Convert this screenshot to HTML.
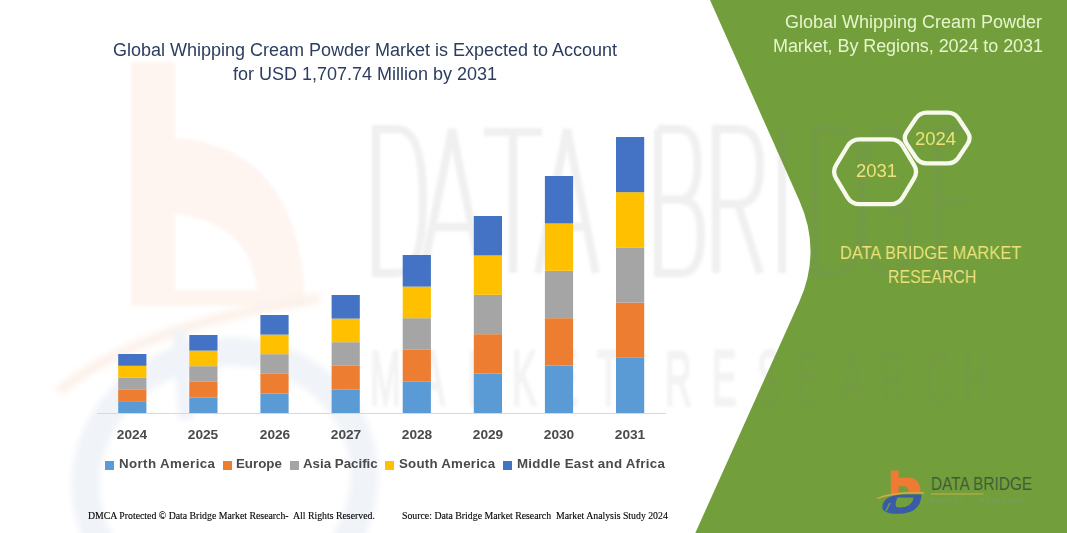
<!DOCTYPE html>
<html><head><meta charset="utf-8"><style>
*{margin:0;padding:0;box-sizing:border-box}
html,body{width:1067px;height:533px;overflow:hidden;background:#fff}
body{position:relative;font-family:"Liberation Sans",sans-serif}
svg{position:absolute;left:0;top:0}
.title{position:absolute;left:64.5px;width:600px;text-align:center;font-size:18px;color:#2C3D60;white-space:pre;line-height:1}
.yr{position:absolute;top:428.3px;width:60px;text-align:center;font-size:13.7px;font-weight:bold;color:#4A4A4A;line-height:1}
.lg{position:absolute;top:457.3px;font-size:13.3px;font-weight:bold;color:#4A4A4A;white-space:pre;line-height:1}
.mk{position:absolute;top:461px;width:9px;height:9px}
.rt{position:absolute;right:24.5px;font-size:18px;color:#E6F6CC;white-space:pre;line-height:1;text-align:right}
.foot{position:absolute;top:510.5px;font-family:"Liberation Serif",serif;font-size:9.8px;color:#000;white-space:pre;line-height:1;-webkit-text-stroke:0.12px #000}
.dbm{position:absolute;font-size:17.6px;color:#EEE27A;white-space:pre;line-height:1;transform-origin:0 0}
.hx{position:absolute;font-size:17.8px;transform:scaleX(1.04);transform-origin:0 0;color:#EEE27A;white-space:pre;line-height:1}
.lgo{position:absolute;left:930.5px;top:474px;font-size:19px;color:#3F5A3A;white-space:pre;line-height:1;transform:scaleX(0.81);transform-origin:0 0}
body{-webkit-font-smoothing:antialiased}
div{will-change:transform}

</style></head><body>
<svg width="1067" height="533" viewBox="0 0 1067 533">
<defs><clipPath id="gc"><path d="M710 0 L1067 0 L1067 533 L695.3 533 L799 302.6 Q822 251.6 799.3 200.6 Z"/></clipPath></defs>
<defs><filter id="bl" x="-5%" y="-5%" width="110%" height="110%"><feGaussianBlur stdDeviation="1.5"/></filter>
<filter id="bl2" x="-10%" y="-10%" width="120%" height="120%"><feGaussianBlur stdDeviation="3"/></filter></defs>
<g filter="url(#bl)">
<path d="M131 62 L175 62 L175 138 Q298 146 305 298 L305 306 L131 306 Z M175 214 Q250 222 257 290 L175 290 Z" fill="#FEF5F0" fill-rule="evenodd"/>
</g>
<g filter="url(#bl2)">
<path d="M58 392 Q140 325 320 298" fill="none" stroke="#FDF1EA" stroke-width="10"/>
<ellipse cx="225" cy="480" rx="140" ry="128" transform="rotate(-12 225 480)" fill="none" stroke="#F0F3F8" stroke-width="28"/>
<path d="M180 330 L186 420" stroke="#F0F3F8" stroke-width="14"/>
</g>



<path d="M710 0 L1067 0 L1067 533 L695.3 533 L799 302.6 Q822 251.6 799.3 200.6 Z" fill="#729F3B"/>
<g transform="translate(0,129)" fill="none" stroke="#808080" stroke-opacity="0.118" stroke-width="8" filter="url(#bl)"><path d="M376 0 L376 144 L397.15 144 Q423 144 423 72.0 Q423 0 397.15 0 Z M423 144 L452.0 0 L481 144 M434.6 97.92 L469.4 97.92 M484 3 L542 3 M513.0 0 L513.0 144 M538 144 L567.0 0 L596 144 M549.6 97.92 L584.4 97.92 M658 0 L658 144 L681.65 144 Q701 144 701 105.12 Q701 70.56 679.5 70.56 L658 70.56 M679.5 70.56 Q697.56 70.56 697.56 34.56 Q697.56 0 679.5 0 L658 0 M716 144 L716 0 L738.0 0 Q760 0 760 37.44 Q760 74.88 738.0 74.88 L716 74.88 M738.0 74.88 L760 144 M782 0 L782 144 M815 0 L815 144 L836.15 144 Q862 144 862 72.0 Q862 0 836.15 0 Z M909 17.28 Q899.6 0 885.5 0 Q862 0 862 72.0 Q862 144 885.5 144 Q909 144 909 115.2 L909 79.2 L887.85 79.2 M973 0 L938 0 L938 144 L973 144 M938 72.0 L969.5 72.0"/></g>
<g opacity="0.09" filter="url(#bl)"><g transform="scale(0.48,1)" font-family="Liberation Sans" font-size="77" fill="#808080" stroke="#808080" stroke-width="3"><text x="770.8" y="405">M</text><text x="875.0" y="405">A</text><text x="975.0" y="405">R</text><text x="1066.7" y="405">K</text><text x="1152.1" y="405">E</text><text x="1243.8" y="405">T</text><text x="1385.4" y="405">R</text><text x="1483.3" y="405">E</text><text x="1577.1" y="405">S</text><text x="1656.2" y="405">E</text><text x="1750.0" y="405">A</text><text x="1833.3" y="405">R</text><text x="1927.1" y="405">C</text><text x="2004.2" y="405">H</text></g></g>
<line x1="100" y1="305" x2="1006" y2="305" stroke="#E88848" stroke-opacity="0.09" stroke-width="3" filter="url(#bl)"/>
<line x1="97" y1="413.5" x2="666" y2="413.5" stroke="#D9D9D9" stroke-width="1"/>
<rect x="118.2" y="401.20" width="28.2" height="11.80" fill="#5B9BD5"/>
<rect x="118.2" y="389.40" width="28.2" height="11.80" fill="#ED7D31"/>
<rect x="118.2" y="377.60" width="28.2" height="11.80" fill="#A5A5A5"/>
<rect x="118.2" y="365.80" width="28.2" height="11.80" fill="#FFC000"/>
<rect x="118.2" y="354.00" width="28.2" height="11.80" fill="#4472C4"/>
<rect x="189.3" y="397.40" width="28.2" height="15.60" fill="#5B9BD5"/>
<rect x="189.3" y="381.80" width="28.2" height="15.60" fill="#ED7D31"/>
<rect x="189.3" y="366.20" width="28.2" height="15.60" fill="#A5A5A5"/>
<rect x="189.3" y="350.60" width="28.2" height="15.60" fill="#FFC000"/>
<rect x="189.3" y="335.00" width="28.2" height="15.60" fill="#4472C4"/>
<rect x="260.4" y="393.40" width="28.2" height="19.60" fill="#5B9BD5"/>
<rect x="260.4" y="373.80" width="28.2" height="19.60" fill="#ED7D31"/>
<rect x="260.4" y="354.20" width="28.2" height="19.60" fill="#A5A5A5"/>
<rect x="260.4" y="334.60" width="28.2" height="19.60" fill="#FFC000"/>
<rect x="260.4" y="315.00" width="28.2" height="19.60" fill="#4472C4"/>
<rect x="331.6" y="389.40" width="28.2" height="23.60" fill="#5B9BD5"/>
<rect x="331.6" y="365.80" width="28.2" height="23.60" fill="#ED7D31"/>
<rect x="331.6" y="342.20" width="28.2" height="23.60" fill="#A5A5A5"/>
<rect x="331.6" y="318.60" width="28.2" height="23.60" fill="#FFC000"/>
<rect x="331.6" y="295.00" width="28.2" height="23.60" fill="#4472C4"/>
<rect x="402.7" y="381.40" width="28.2" height="31.60" fill="#5B9BD5"/>
<rect x="402.7" y="349.80" width="28.2" height="31.60" fill="#ED7D31"/>
<rect x="402.7" y="318.20" width="28.2" height="31.60" fill="#A5A5A5"/>
<rect x="402.7" y="286.60" width="28.2" height="31.60" fill="#FFC000"/>
<rect x="402.7" y="255.00" width="28.2" height="31.60" fill="#4472C4"/>
<rect x="473.8" y="373.60" width="28.2" height="39.40" fill="#5B9BD5"/>
<rect x="473.8" y="334.20" width="28.2" height="39.40" fill="#ED7D31"/>
<rect x="473.8" y="294.80" width="28.2" height="39.40" fill="#A5A5A5"/>
<rect x="473.8" y="255.40" width="28.2" height="39.40" fill="#FFC000"/>
<rect x="473.8" y="216.00" width="28.2" height="39.40" fill="#4472C4"/>
<rect x="544.9" y="365.60" width="28.2" height="47.40" fill="#5B9BD5"/>
<rect x="544.9" y="318.20" width="28.2" height="47.40" fill="#ED7D31"/>
<rect x="544.9" y="270.80" width="28.2" height="47.40" fill="#A5A5A5"/>
<rect x="544.9" y="223.40" width="28.2" height="47.40" fill="#FFC000"/>
<rect x="544.9" y="176.00" width="28.2" height="47.40" fill="#4472C4"/>
<rect x="616.0" y="357.80" width="28.2" height="55.20" fill="#5B9BD5"/>
<rect x="616.0" y="302.60" width="28.2" height="55.20" fill="#ED7D31"/>
<rect x="616.0" y="247.40" width="28.2" height="55.20" fill="#A5A5A5"/>
<rect x="616.0" y="192.20" width="28.2" height="55.20" fill="#FFC000"/>
<rect x="616.0" y="137.00" width="28.2" height="55.20" fill="#4472C4"/>
<g fill="none" stroke="#F6F9EC" stroke-width="4.3">
<path d="M906.76 143.84 Q902.90 138.00 906.76 132.16 L915.84 118.44 Q919.70 112.60 926.70 112.60 L947.70 112.60 Q954.70 112.60 958.56 118.44 L967.64 132.16 Q971.50 138.00 967.64 143.84 L958.56 157.56 Q954.70 163.40 947.70 163.40 L926.70 163.40 Q919.70 163.40 915.84 157.56 Z"/>
<path d="M836.23 178.65 Q832.10 171.80 836.23 164.95 L847.47 146.25 Q851.60 139.40 859.60 139.40 L890.60 139.40 Q898.60 139.40 902.73 146.25 L913.97 164.95 Q918.10 171.80 913.97 178.65 L902.73 197.35 Q898.60 204.20 890.60 204.20 L859.60 204.20 Q851.60 204.20 847.47 197.35 Z"/>
</g>
<g>
<path d="M890.8 470.4 L898.6 470.4 L898.6 477.8 L910 477.8 Q920.5 479 920.5 492.4 L908.8 492.4 Q908.5 486.2 904 486.2 L898.6 486.2 L898.6 494.6 L890.8 494.6 Z" fill="#EE7A33"/>
<path d="M882.3 507 Q883 494.6 906 494.6 L921.5 494.6 Q921 513.8 898 513.8 Q882 513.8 882.3 507 Z M897.5 497.5 L913.5 497.5 Q912 507.5 899 507.5 Q893 507.5 897.5 497.5 Z" fill="#3A5BA6" fill-rule="evenodd"/>
<path d="M886 511 L890 503" stroke="#6E9A50" stroke-width="1.6"/>
<path d="M877 498.5 Q895 491.5 924 493" fill="none" stroke="#E0A848" stroke-width="1.3"/>
<line x1="931" y1="494" x2="983.5" y2="494" stroke="#C8B048" stroke-width="1"/>
<text x="930" y="502.5" font-family="Liberation Sans" font-size="6.2" letter-spacing="1.6" fill="#80996F">MARKET</text>
<text x="980" y="502.5" font-family="Liberation Sans" font-size="6.2" letter-spacing="1.3" fill="#80996F">RESEARCH</text>
</g>

</svg>
<div class="title" style="top:40.6px">Global Whipping Cream Powder Market is Expected to Account</div>
<div class="title" style="top:64.7px">for USD 1,707.74 Million by 2031</div>
<div class="yr" style="left:102.3px">2024</div>
<div class="yr" style="left:173.4px">2025</div>
<div class="yr" style="left:244.5px">2026</div>
<div class="yr" style="left:315.7px">2027</div>
<div class="yr" style="left:386.8px">2028</div>
<div class="yr" style="left:457.9px">2029</div>
<div class="yr" style="left:529.0px">2030</div>
<div class="yr" style="left:600.1px">2031</div>
<div class="mk" style="left:105px;background:#5B9BD5"></div><div class="lg" style="left:119px;letter-spacing:0.4px">North America</div>
<div class="mk" style="left:223px;background:#ED7D31"></div><div class="lg" style="left:235.6px">Europe</div>
<div class="mk" style="left:290px;background:#A5A5A5"></div><div class="lg" style="left:303px">Asia Pacific</div>
<div class="mk" style="left:385px;background:#FFC000"></div><div class="lg" style="left:399px;letter-spacing:0.23px">South America</div>
<div class="mk" style="left:503px;background:#4472C4"></div><div class="lg" style="left:517px;letter-spacing:0.27px">Middle East and Africa</div>
<div class="foot" style="left:88px">DMCA Protected © Data Bridge Market Research-  All Rights Reserved.</div>
<div class="foot" style="left:402px">Source: Data Bridge Market Research  Market Analysis Study 2024</div>
<div class="rt" style="top:13.2px">Global Whipping Cream Powder</div>
<div class="rt" style="top:37.1px;letter-spacing:-0.07px">Market, By Regions, 2024 to 2031</div>
<div class="hx" style="left:855.8px;top:162.8px">2031</div>
<div class="hx" style="left:914.6px;top:131.2px">2024</div>
<div class="dbm" style="left:840.4px;top:244.8px;transform:scaleX(0.935)">DATA BRIDGE MARKET</div>
<div class="dbm" style="left:887.8px;top:269.0px;transform:scaleX(0.905)">RESEARCH</div>
<div class="lgo">DATA BRIDGE</div>
</body></html>
